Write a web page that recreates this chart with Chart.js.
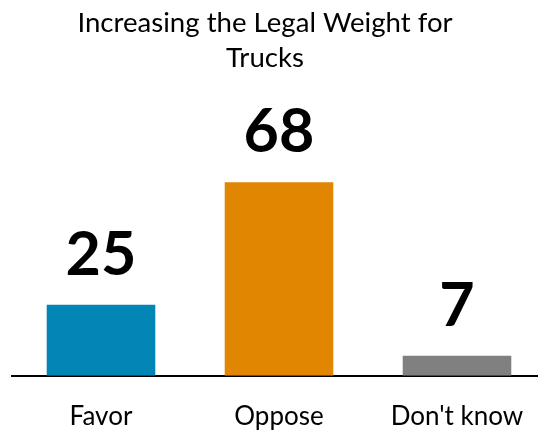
<!DOCTYPE html>
<html>
<head>
<meta charset="utf-8">
<script src="https://cdn.jsdelivr.net/npm/chart.js@4/dist/chart.umd.min.js"></script>
<style>
  html, body { margin: 0; padding: 0; background: #fff; overflow: hidden; }
  #wrap { width: 538px; height: 430px; overflow: hidden; }
</style>
</head>
<body>
<div id="wrap"><canvas id="barChart" width="550" height="457"></canvas></div>
<script>
let answers = ["Favor", "Oppose", "Don't know"];
let percents = [25, 68, 7];
let barColors = ["#0386B6", "#E08600", "#808080"];
let chartTitle = ["Increasing the Legal Weight for", "Trucks"];

// big bold numbers above each bar
const valueLabels = {
    id: "valueLabels",
    afterDatasetsDraw(chart) {
        let ctx = chart.ctx;
        let meta = chart.getDatasetMeta(0);
        ctx.save();
        ctx.font = "bold 61px Lato";
        ctx.fillStyle = "#000";
        ctx.textAlign = "center";
        ctx.textBaseline = "alphabetic";
        meta.data.forEach((bar, i) => {
            ctx.fillText(percents[i], bar.x, bar.y - 30);
        });
        ctx.restore();
    }
};

// title sits a bit left of the plot centre in the original
const titleShift = {
    id: "titleShift",
    afterLayout(chart) {
        if (chart.titleBlock) {
            chart.titleBlock.left -= 14;
            chart.titleBlock.right -= 14;
        }
    }
};

new Chart("barChart", {
    type: "bar",
    data: {
        labels: answers,
        datasets: [{
            data: percents,
            backgroundColor: barColors,
            barPercentage: 0.61,
            categoryPercentage: 1
        }]
    },
    options: {
        responsive: false,
        animation: false,
        layout: { padding: { left: 12, right: 4, top: 0, bottom: 0 } },
        plugins: {
            legend: { display: false },
            tooltip: { enabled: false },
            title: {
                display: true,
                text: chartTitle,
                color: "#000",
                font: { family: "Lato", size: 27.6, weight: "normal", lineHeight: 1.27 },
                padding: { top: 6, bottom: 15 }
            }
        },
        scales: {
            x: {
                grid: { display: false, drawTicks: false },
                border: { display: true, color: "#000", width: 2 },
                ticks: {
                    color: "#000",
                    padding: 25,
                    font: { family: "Lato", size: 26 }
                }
            },
            y: {
                display: false,
                min: 0,
                max: 100
            }
        }
    },
    plugins: [valueLabels, titleShift]
});
</script>
</body>
</html>
